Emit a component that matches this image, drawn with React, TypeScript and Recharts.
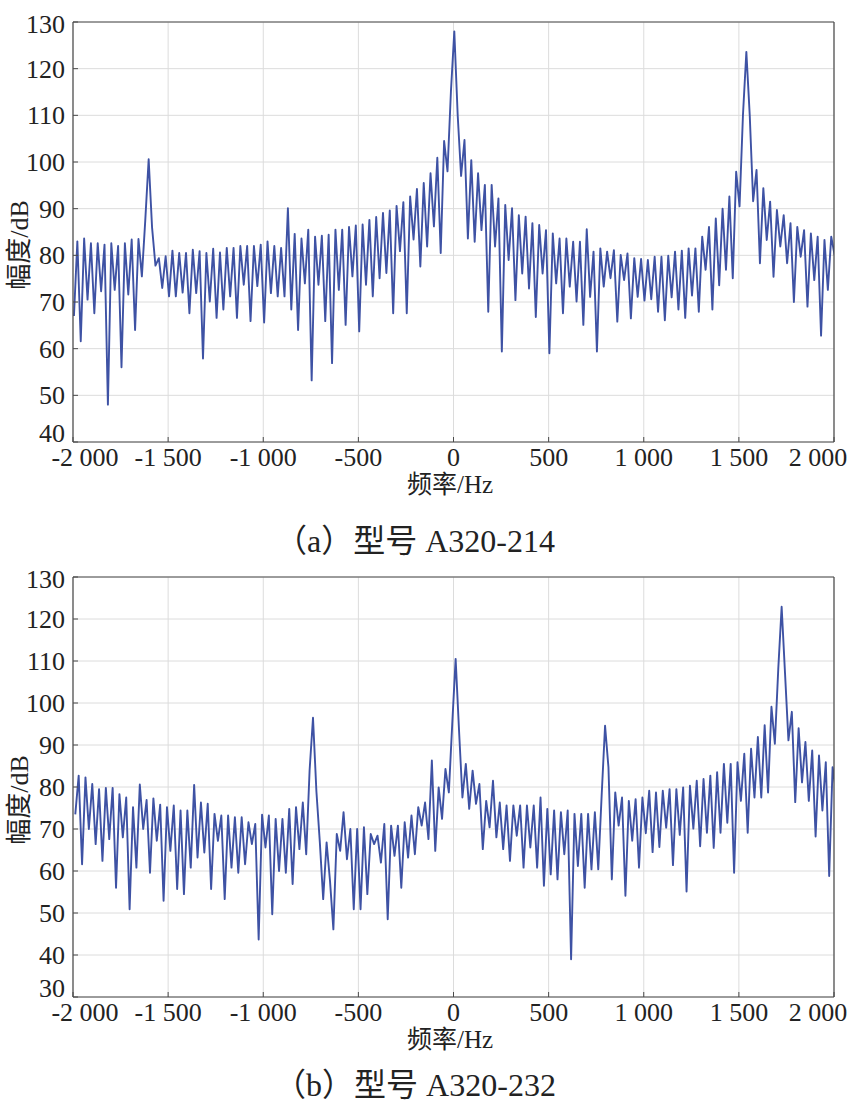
import { LineChart, Line, XAxis, YAxis, CartesianGrid } from 'recharts';

// frequency bins (Hz): start + i * step
const FREQ_STEP = 17.85;
const START_A = -1995;
const START_B = -1988;

const X_TICKS = [-2000, -1500, -1000, -500, 0, 500, 1000, 1500, 2000];
const X_TICK_LABELS = ['-2 000', '-1 500', '-1 000', '-500', '0', '500', '1 000', '1 500', '2 000'];
const Y_TICKS_A = [40, 50, 60, 70, 80, 90, 100, 110, 120, 130];
const Y_TICKS_B = [30, 40, 50, 60, 70, 80, 90, 100, 110, 120, 130];

// (a) A320-214 amplitude, dB
const AMP_A = [
  67, 83, 61.6, 83.6, 70.5, 82.6, 67.6, 82.6, 72.3, 82.3, 48, 82.6, 72.6, 82, 56, 82.6, 71.6, 83.4, 64, 83.5,
  75.5, 87.5, 100.6, 86, 77.8, 79.4, 73, 79.8, 71.2, 81, 71.2, 80.5, 72, 80.5, 67.6, 81.2, 71.9, 80.9, 57.9, 80.5,
  70.1, 81.4, 66.6, 80.6, 68.4, 81.6, 71.2, 81.6, 66.6, 82, 73.7, 82, 65.9, 82, 73.4, 82.3, 65.6, 83, 71.9, 82,
  71.2, 81.6, 71.2, 90.1, 68.4, 84.6, 64, 83.6, 74, 85.5, 53.2, 84, 73.7, 84.2, 65.9, 84.4, 56.9, 85.5, 72.6, 85.5,
  65.1, 86.1, 75.5, 86.4, 63.7, 86.6, 73.7, 87.6, 71.2, 88.2, 75.1, 89.1, 76.2, 89.6, 67.6, 90.6, 80.9, 91.4, 67.6, 92.6,
  83.4, 94.2, 77.6, 95.5, 81.9, 97.6, 86.2, 100.9, 80.5, 104.5, 98, 115, 128, 110, 97, 104.7, 83.6, 100.4, 82.9, 97.6,
  85.4, 95.1, 67.9, 95.1, 81.9, 92.2, 59.4, 90.8, 79, 90.1, 70.4, 88.6, 76.1, 88.3, 72.9, 86.9, 66.8, 86.5, 76.1, 85.4,
  59, 84.7, 74, 83.6, 67.6, 83.6, 73.3, 82.9, 70.1, 82.9, 65.1, 85.6, 71.1, 80.8, 59.4, 81.5, 73.3, 80.8, 75.1, 81.1,
  65.8, 80.1, 74.7, 80.4, 66.5, 79.4, 71.1, 79.2, 70.3, 79, 70.6, 79.7, 67.9, 79.7, 66.1, 79.9, 71, 80.8, 68.4, 81,
  66.6, 81.5, 71.4, 81.5, 67.9, 84, 76.9, 86.1, 68.4, 87.9, 73.6, 90, 76.9, 92.6, 75.1, 97.9, 90.5, 110, 123.6, 110,
  91.6, 98.3, 78.3, 94.4, 83.3, 91.5, 75.4, 89.7, 81.9, 88.6, 78.3, 86.9, 70, 86.1, 79.7, 85.4, 69, 84.7, 74.7, 84,
  62.8, 83.3, 72.6, 84, 80,
];

// (b) A320-232 amplitude, dB
const AMP_B = [
  73.5, 82.7, 61.6, 82.3, 70, 80.7, 66.4, 79.5, 62.4, 79.8, 67.6, 79.8, 56, 78.3, 68, 77.5, 50.9, 75.2, 60.8, 80.6,
  70, 76.9, 59.6, 77.3, 67.2, 75.8, 52.9, 75.2, 64.8, 75.6, 55.7, 74.4, 54.5, 74.4, 60.8, 80.5, 63.2, 76.3, 64.4, 76,
  55.7, 73.6, 67.2, 73.2, 53.3, 73.2, 60.8, 72.8, 59.6, 72.8, 61.6, 71.6, 66.4, 71.2, 43.7, 73.4, 65.6, 73.2, 49.7, 72.4,
  60, 72.4, 59.6, 74.8, 56.9, 75.2, 65.2, 76.3, 64, 84, 96.5, 79, 67, 53.3, 66.8, 57.7, 46.1, 68.8, 64.8, 74,
  62.8, 70, 50.9, 70, 50.9, 70.4, 54.5, 68.8, 66.4, 68.4, 62, 71.2, 48.5, 70.8, 63.6, 70.8, 56, 71.6, 63.2, 73.2,
  64, 75.2, 70.8, 76.3, 67.6, 86.3, 64.8, 79.9, 72.4, 84.3, 78.7, 95, 110.5, 93.5, 77.5, 85.5, 74.8, 83.9, 76, 80.7,
  65.2, 76.7, 70.4, 81.5, 68, 76.3, 65.2, 75.6, 62.4, 75.6, 68.4, 75.6, 60.8, 75.6, 65.6, 75.6, 60.8, 77.5, 56.5, 74.8,
  59.2, 74.4, 58, 74, 64, 74.4, 39, 73.6, 61.2, 73.6, 56, 73.6, 60.4, 74, 60.4, 78, 94.6, 84.7, 58, 78.7,
  70.8, 77.5, 54.1, 76.7, 67.2, 77.1, 60.8, 77.5, 69, 79.1, 64.5, 78.7, 65.7, 79.1, 70.3, 79.5, 61.4, 79.5, 68.6, 79.9,
  55.1, 80.3, 70.1, 81.5, 65.9, 81.9, 69.1, 82.7, 65.5, 83.5, 69.1, 85.5, 71.5, 85.5, 59.6, 85.9, 76.7, 87.9, 69.1, 89.1,
  77.5, 91.9, 77.5, 94.7, 78.7, 99.1, 90.3, 108, 122.9, 107, 91.1, 97.9, 76.4, 94, 81.1, 90.7, 76.7, 88.7, 68.2, 87.5,
  74.4, 85.9, 58.8, 84.7, 79,
];

const SERIF = '"Liberation Serif", "Times New Roman", serif';
const MIXED = '"Liberation Serif", "Noto Sans CJK SC", serif';
const AXIS = '#4a4a4a';
const LINE = '#3e52a4';

const dataA = AMP_A.map((amp, i) => ({ freq: START_A + i * FREQ_STEP, amp }));
const dataB = AMP_B.map((amp, i) => ({ freq: START_B + i * FREQ_STEP, amp }));

function XTick(props: any) {
  const { x, y, index } = props;
  // end labels sit inside the frame in the original
  const shift = index === 0 ? 12 : index === X_TICKS.length - 1 ? -16 : 0;
  return (
    <text x={x + shift} y={y} dy="0.71em" textAnchor="middle" fill="#222" fontFamily={SERIF} fontSize={26}>
      {X_TICK_LABELS[index]}
    </text>
  );
}

function makeYTick(count: number) {
  return (props: any) => {
    const { x, y, payload, index } = props;
    const shift = index === 0 ? -9 : index === count - 1 ? 2 : 0;
    return (
      <text x={x} y={y + shift} dy="0.35em" textAnchor="end" fill="#222" fontFamily={SERIF} fontSize={26}>
        {payload.value}
      </text>
    );
  };
}

function SpectrumPanel({ data, yTicks, top }: { data: any[]; yTicks: number[]; top: number }) {
  const yDomain = [yTicks[0], yTicks[yTicks.length - 1]];
  return (
    <div style={{ position: 'absolute', left: 0, top, width: 856, height: 500 }}>
      <LineChart width={856} height={500} data={data} margin={{ top: 21, right: 21, bottom: 28, left: 13 }}>
        <CartesianGrid stroke="#dcdcdc" strokeWidth={1} />
        <XAxis
          dataKey="freq"
          type="number"
          domain={[-2000, 2000]}
          ticks={X_TICKS}
          allowDataOverflow
          interval={0}
          height={30}
          tickSize={-5}
          tickMargin={11}
          tick={<XTick />}
          axisLine={{ stroke: AXIS, strokeWidth: 1.2 }}
          tickLine={{ stroke: AXIS }}
        />
        <XAxis
          xAxisId="top"
          orientation="top"
          dataKey="freq"
          type="number"
          domain={[-2000, 2000]}
          ticks={X_TICKS}
          allowDataOverflow
          interval={0}
          height={1}
          tickSize={-5}
          tick={false}
          axisLine={{ stroke: AXIS, strokeWidth: 1.2 }}
          tickLine={{ stroke: AXIS }}
        />
        <YAxis
          type="number"
          domain={yDomain}
          ticks={yTicks}
          allowDataOverflow
          interval={0}
          width={60}
          tickSize={-5}
          tickMargin={13}
          tick={makeYTick(yTicks.length)}
          axisLine={{ stroke: AXIS, strokeWidth: 1.2 }}
          tickLine={{ stroke: AXIS }}
        />
        <YAxis
          yAxisId="right"
          orientation="right"
          type="number"
          domain={yDomain}
          ticks={yTicks}
          allowDataOverflow
          interval={0}
          width={1}
          tickSize={-5}
          tick={false}
          axisLine={{ stroke: AXIS, strokeWidth: 1.2 }}
          tickLine={{ stroke: AXIS }}
        />
        <Line
          type="linear"
          dataKey="amp"
          stroke={LINE}
          strokeWidth={1.9}
          strokeLinejoin="round"
          dot={false}
          isAnimationActive={false}
        />
      </LineChart>
      {/* axis titles */}
      <div
        style={{
          position: 'absolute', left: 20, top: 245, transform: 'translate(-50%, -50%) rotate(-90deg)',
          whiteSpace: 'nowrap', fontFamily: MIXED, fontSize: 26, color: '#222', lineHeight: 1,
        }}
      >
        幅度/dB
      </div>
      <div
        style={{
          position: 'absolute', left: 450, top: 484, transform: 'translate(-50%, -50%)',
          whiteSpace: 'nowrap', fontFamily: MIXED, fontSize: 25, color: '#222', lineHeight: 1,
        }}
      >
        频率/Hz
      </div>
    </div>
  );
}

function Caption({ text, top }: { text: string; top: number }) {
  return (
    <div
      style={{
        position: 'absolute', left: 415, top, transform: 'translate(-50%, -50%)',
        whiteSpace: 'nowrap', fontFamily: MIXED, fontSize: 32, color: '#222', lineHeight: 1,
      }}
    >
      {text}
    </div>
  );
}

export default function App() {
  return (
    <div style={{ position: 'absolute', left: 0, top: 0, width: 856, height: 1109, background: '#fff', overflow: 'hidden' }}>
      <SpectrumPanel data={dataA} yTicks={Y_TICKS_A} top={0} />
      <Caption text="（a）型号 A320-214" top={541} />
      <SpectrumPanel data={dataB} yTicks={Y_TICKS_B} top={555} />
      <Caption text="（b）型号 A320-232" top={1085} />
    </div>
  );
}
